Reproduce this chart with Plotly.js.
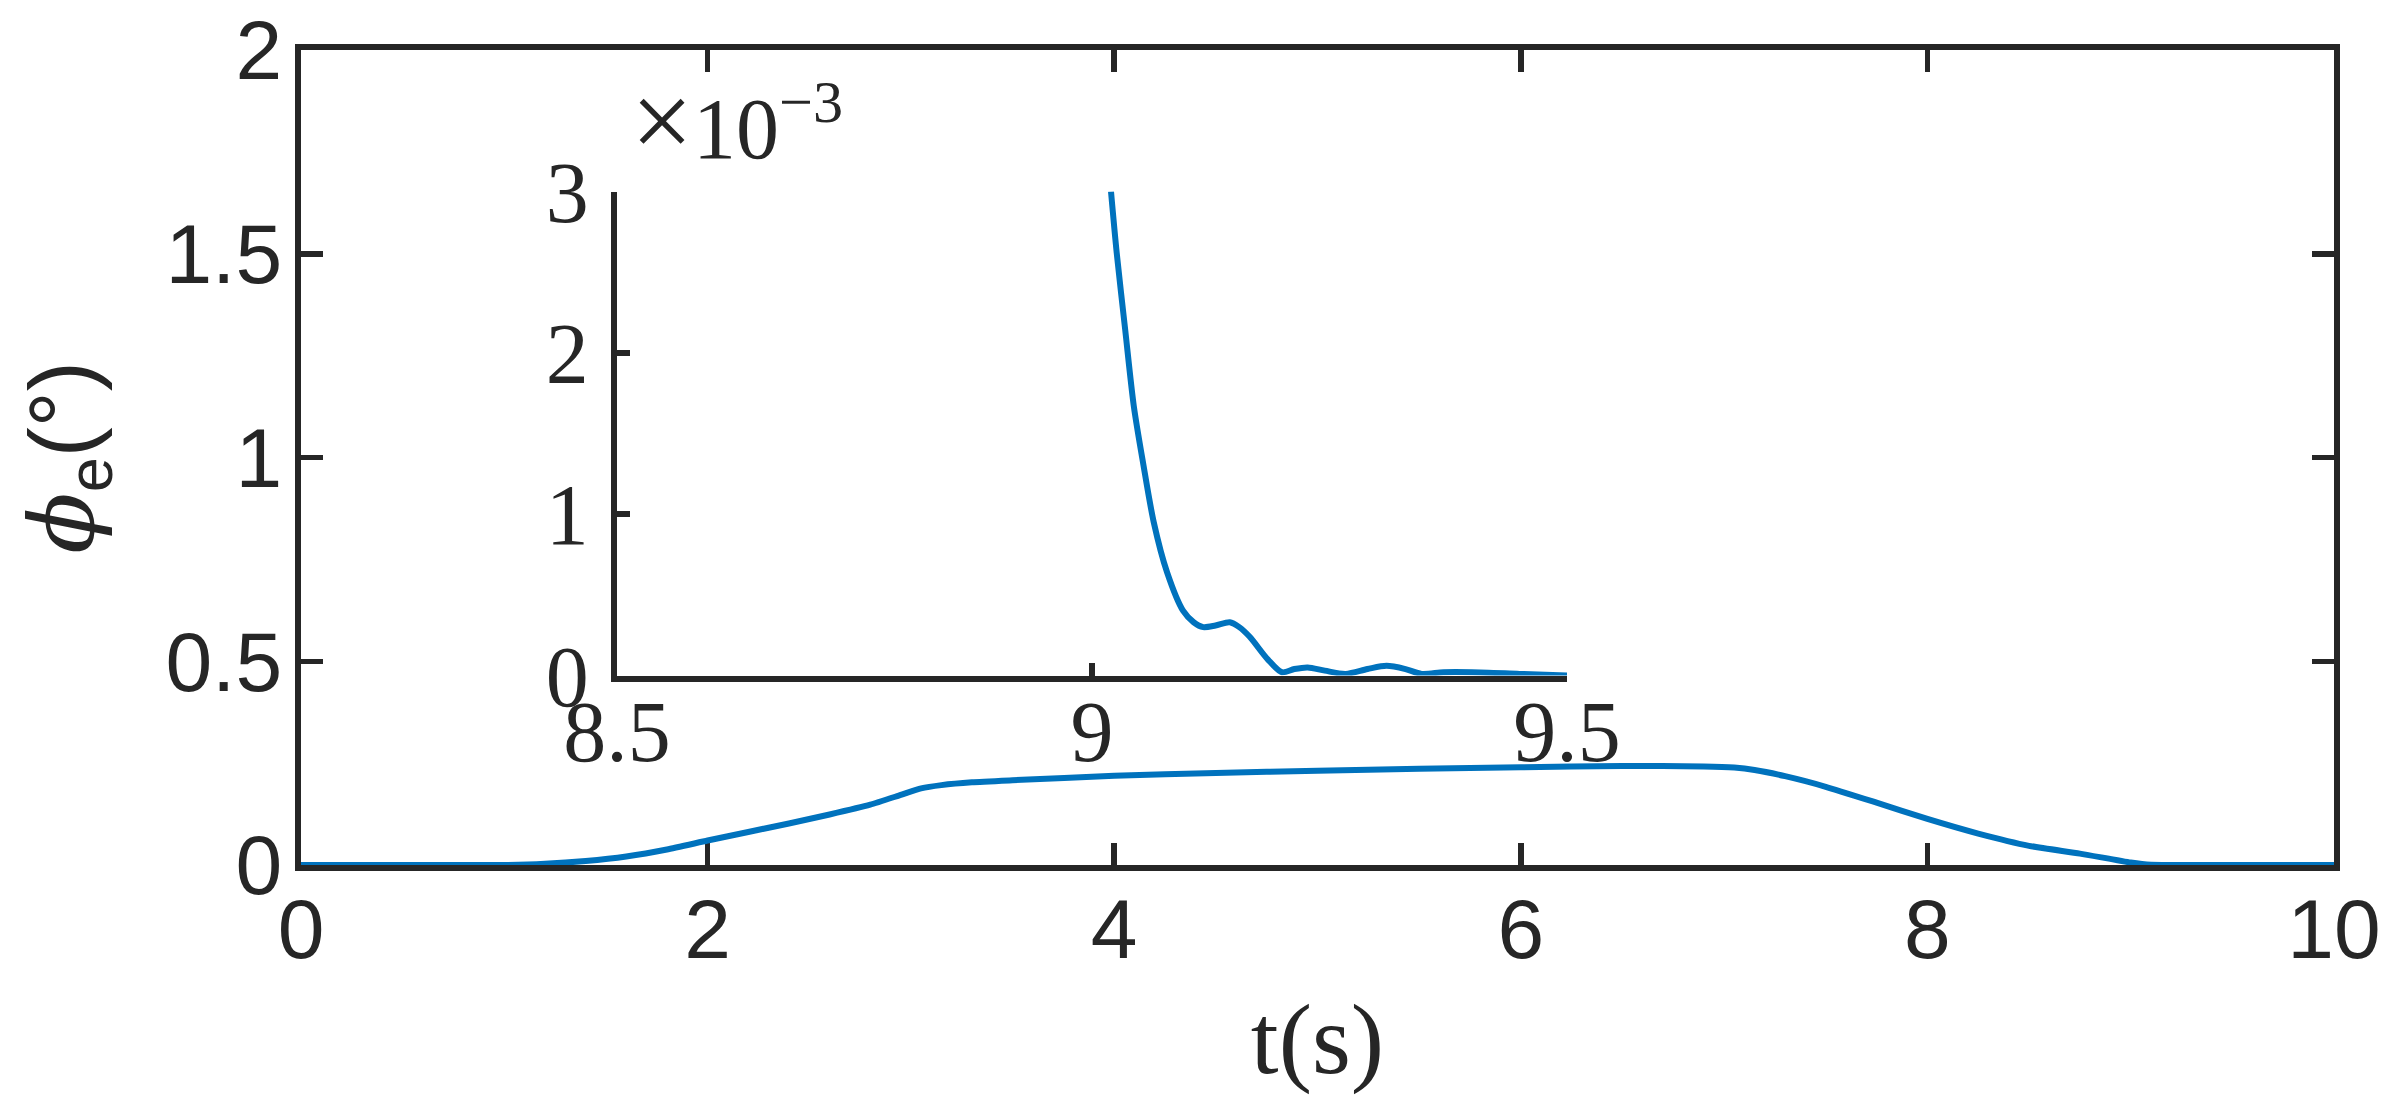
<!DOCTYPE html>
<html>
<head>
<meta charset="utf-8">
<script src="https://cdn.plot.ly/plotly-3.0.1.min.js"></script>
<style>html,body{margin:0;padding:0;background:#fff;}#chart{width:2395px;height:1116px;}</style>
</head>
<body>
<div id="chart"></div>
<script>
// Main series: time (s) and phi_e (deg)
const tMain = [0, 0.5, 1.0, 1.2, 1.4, 1.6, 1.8, 2.0, 2.2, 2.4, 2.6, 2.8, 2.95, 3.05, 3.15, 3.3, 3.5, 4.0, 4.5, 5.0, 5.5, 6.0, 6.5, 6.9, 7.05, 7.15, 7.3, 7.5, 7.75, 8.0, 8.25, 8.5, 8.75, 9.0, 9.1, 9.2, 9.5, 10];
const phiMain = [0, 0, 0, 0.003, 0.010, 0.021, 0.038, 0.060, 0.081, 0.102, 0.124, 0.148, 0.172, 0.188, 0.196, 0.203, 0.208, 0.219, 0.226, 0.231, 0.236, 0.240, 0.243, 0.242, 0.239, 0.233, 0.218, 0.192, 0.153, 0.113, 0.077, 0.047, 0.028, 0.006, 0.0005, 0, 0, 0];

// Inset (zoom) series: time (s) and phi_e in units of 1e-3 deg
const tZoom = [9.020, 9.026, 9.035, 9.044, 9.054, 9.065, 9.079, 9.096, 9.107, 9.117, 9.130, 9.145, 9.155, 9.166, 9.185, 9.200, 9.213, 9.227, 9.245, 9.267, 9.290, 9.310, 9.330, 9.347, 9.370, 9.400, 9.450, 9.500];
const phiZoomE3 = [3.00, 2.62, 2.14, 1.67, 1.31, 0.95, 0.64, 0.40, 0.33, 0.30, 0.31, 0.33, 0.30, 0.24, 0.10, 0.02, 0.04, 0.05, 0.03, 0.01, 0.04, 0.06, 0.04, 0.01, 0.02, 0.02, 0.01, 0.00];

// Tick labels
const mainXTicks = [0, 2, 4, 6, 8, 10];
const mainYTicks = [0, 0.5, 1, 1.5, 2];
const mainYTickText = ['0', '0.5', '1', '1.5', '2'];
const zoomXTicks = [8.5, 9, 9.5];
const zoomXTickText = ['8.5', '9', '9.5'];
const zoomYTicksE3 = [0, 1, 2, 3];

const axisColor = '#262626';
const lineColor = '#0072BD';
const sans = 'Liberation Sans, Arial, sans-serif';
const serif = 'Liberation Serif, Times New Roman, serif';

const traces = [
  {
    x: tMain, y: phiMain, type: 'scatter', mode: 'lines',
    line: {color: lineColor, width: 6, shape: 'spline', smoothing: 0.5}, cliponaxis: false,
    xaxis: 'x', yaxis: 'y', hoverinfo: 'skip', showlegend: false
  },
  {
    x: tZoom, y: phiZoomE3.map(v => v * 1e-3), type: 'scatter', mode: 'lines',
    line: {color: lineColor, width: 6, shape: 'spline', smoothing: 0.8}, cliponaxis: false,
    xaxis: 'x2', yaxis: 'y2', hoverinfo: 'skip', showlegend: false
  }
];

const x2Domain = [(617 - 301) / 2033, (1567 - 301) / 2033];
const y2Domain = [(865 - 675.5) / 815, (865 - 191.5) / 815];

const layout = {
  width: 2395, height: 1116,
  margin: {l: 301, r: 61, t: 50, b: 251, pad: 0},
  paper_bgcolor: '#ffffff', plot_bgcolor: '#ffffff',
  showlegend: false,
  xaxis: {
    range: [0, 10], tickvals: mainXTicks, ticktext: mainXTicks.map(String),
    ticks: 'inside', ticklen: 22, tickwidth: 5.5, tickcolor: axisColor,
    showline: true, linewidth: 6, linecolor: axisColor, mirror: 'ticks',
    showgrid: false, zeroline: false, layer: 'below traces',
    tickfont: {family: sans, size: 84, color: axisColor},
    ticklabelstandoff: -14,
    title: {text: 't(s)', font: {family: serif, size: 100, color: axisColor}, standoff: 30},
    automargin: false
  },
  yaxis: {
    range: [0, 2], tickvals: mainYTicks, ticktext: mainYTickText,
    ticks: 'inside', ticklen: 22, tickwidth: 5.5, tickcolor: axisColor,
    showline: true, linewidth: 6, linecolor: axisColor, mirror: 'ticks',
    showgrid: false, zeroline: false, layer: 'below traces',
    tickfont: {family: sans, size: 84, color: axisColor},
    ticklabelstandoff: -4,
    title: {text: '<span style="font-family:DejaVu Serif"><i>ϕ</i></span><sub>e</sub>(°)', font: {family: sans, size: 90, color: axisColor}, standoff: 44},
    automargin: false
  },
  xaxis2: {
    domain: x2Domain, anchor: 'y2', range: [8.5, 9.5],
    tickvals: zoomXTicks, ticktext: zoomXTickText,
    ticks: 'inside', ticklen: 13, tickwidth: 5.5, tickcolor: axisColor,
    showline: true, linewidth: 6, linecolor: axisColor, mirror: false,
    showgrid: false, zeroline: false, layer: 'below traces',
    tickfont: {family: serif, size: 86, color: axisColor},
    ticklabelstandoff: -24,
    automargin: false
  },
  yaxis2: {
    domain: y2Domain, anchor: 'x2', range: [0, 0.003],
    tickvals: zoomYTicksE3.map(v => v * 1e-3), ticktext: zoomYTicksE3.map(String),
    ticks: 'inside', ticklen: 13, tickwidth: 5.5, tickcolor: axisColor,
    showline: true, linewidth: 6, linecolor: axisColor, mirror: false,
    showgrid: false, zeroline: false, layer: 'below traces',
    tickfont: {family: serif, size: 86, color: axisColor},
    ticklabelstandoff: 5,
    automargin: false
  },
  annotations: [
    {
      xref: 'x2 domain', yref: 'y2 domain', x: 0.0126, y: 1,
      xanchor: 'left', yanchor: 'bottom', yshift: 8, showarrow: false,
      text: '<span style="font-size:110px">×</span>10<sup>−3</sup>',
      font: {family: serif, size: 86, color: axisColor}
    }
  ]
};

Plotly.newPlot('chart', traces, layout, {displayModeBar: false, staticPlot: true});
</script>
</body>
</html>
